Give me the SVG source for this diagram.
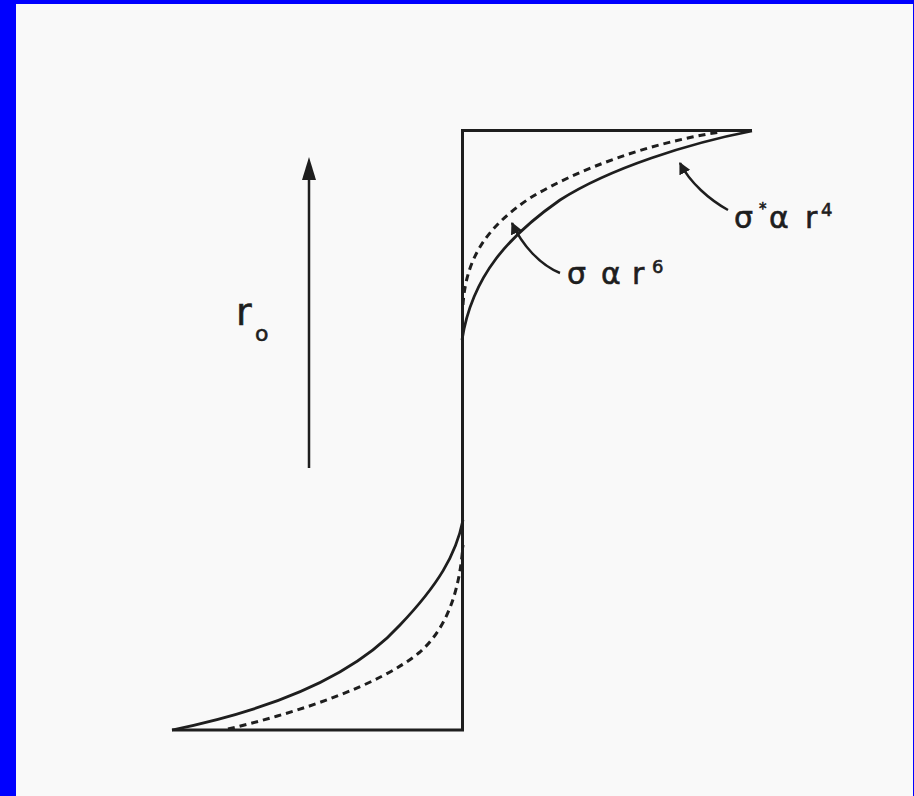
<svg xmlns="http://www.w3.org/2000/svg" width="914" height="796" viewBox="0 0 914 796">
<defs>
<style>
.ln{fill:none;stroke:#1e1e1e;stroke-width:3;stroke-linecap:butt}
.cv{fill:none;stroke:#1e1e1e;stroke-width:2.8}
.ds{fill:none;stroke:#1e1e1e;stroke-width:3;stroke-dasharray:7 5}
.ld{fill:none;stroke:#1e1e1e;stroke-width:2.5}
.t{font-family:"DejaVu Sans","Liberation Sans",sans-serif;fill:#1e1e1e;stroke:#1e1e1e;stroke-width:0.6}
</style>
<marker id="ah" viewBox="0 0 10 10" refX="9" refY="5" markerWidth="12" markerHeight="12" markerUnits="userSpaceOnUse" orient="auto">
<path d="M0,0 L10,5 L0,10 Z" fill="#1e1e1e"/>
</marker>
</defs>
<rect x="0" y="0" width="914" height="796" fill="#0000ff"/>
<rect x="16" y="4" width="897" height="792" fill="#f9f9f9"/>
<g id="step">
<path class="ln" d="M752,130.5 L462.5,130.5 L462.5,730 L172,730"/>
</g>
<g id="curves">
<path class="cv" d="M462,340 C472,275 510,235 560,200 C610,168 690,143 752,131"/>
<path class="ds" d="M463,305 C466,255 490,225 530,198 C580,168 650,143 720,132"/>
<path class="cv" d="M172,730 C260,712 350,680 400,625 C438,585 456,555 463,520"/>
<path class="ds" d="M228,729 C300,712 380,685 420,652 C450,625 460,585 463,545"/>
</g>
<g id="axis">
<line class="ld" x1="309" y1="468" x2="309" y2="176"/>
<path d="M309,157 L302,180 L316,180 Z" fill="#1e1e1e"/>
<text class="t" x="236" y="325" font-size="38">r</text>
<text class="t" x="255" y="341" font-size="22">o</text>
</g>
<g id="connectors">
<path class="ld" d="M560,273 C540,265 522,245 512,223" marker-end="url(#ah)"/>
<path class="ld" d="M728,210 C710,200 690,183 680,163" marker-end="url(#ah)"/>
</g>
<g id="label-r6">
<text class="t" font-size="30"><tspan x="567" y="284">σ</tspan><tspan x="601" y="284">α</tspan><tspan x="632" y="284">r</tspan><tspan x="652" y="273" font-size="18">6</tspan></text>
</g>
<g id="label-r4">
<text class="t" font-size="30"><tspan x="734" y="228">σ</tspan><tspan x="759" y="214" font-size="15">*</tspan><tspan x="769" y="228">α</tspan><tspan x="805" y="228">r</tspan><tspan x="821" y="216" font-size="18">4</tspan></text>
</g>
</svg>
